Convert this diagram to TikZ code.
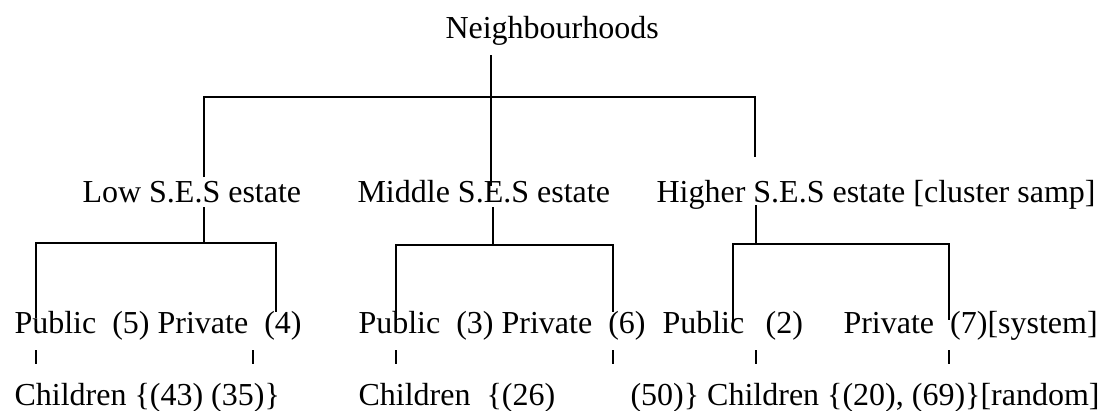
\documentclass[tikz,border=0pt]{standalone}
\usepackage{fontspec}
\setmainfont{Liberation Serif}

\begin{document}
\begin{tikzpicture}[x=0.375pt,y=-0.375pt,
  lbl/.style={anchor=base west,inner sep=0pt,font=\fontsize{12}{14}\selectfont},
  link/.style={line width=1pt}]
\useasboundingbox (0,0) rectangle (1109,410);
% rows of text
\node[lbl] (nbh) at (445,38) {Neighbourhoods};
\node[lbl] (low) at (82,202) {Low S.E.S estate};
\node[lbl] (mid) at (357,202) {Middle S.E.S estate};
\node[lbl] (high) at (656,202) {Higher S.E.S estate [cluster samp]};
\node[lbl] (lowpub) at (14,333) {Public\ \ (5) Private\ \ (4)};
\node[lbl] (midpub) at (358,333) {Public\ \ (3) Private\ \ (6)};
\node[lbl] (highpub) at (662,333) {Public\hspace{8pt}(2)};
\node[lbl] (highpri) at (843,333) {Private\ \ (7)[system]};
\node[lbl] (lowkids) at (14,405) {Children {\{}(43) (35){\}}};
\node[lbl] (midkids) at (358,405) {Children\ \ {\{}(26)};
\node[lbl] (highkids) at (630,405) {(50){\}} Children {\{}(20), (69){\}}[random]};
% junctions
\coordinate (rootstem) at (491,55);
\coordinate (rootj) at (491,97);
\coordinate (lowtop) at (204,177);
\coordinate (midtop) at (491,186);
\coordinate (hightop) at (755,157);
\coordinate (lowstem) at (204,207);
\coordinate (lowj) at (204,243);
\coordinate (lowpubtop) at (36,318);
\coordinate (lowpritop) at (276,312);
\coordinate (midstem) at (493,207);
\coordinate (midj) at (493,245);
\coordinate (midpubtop) at (396,318);
\coordinate (midpritop) at (613,312);
\coordinate (highstem) at (756,205);
\coordinate (highj) at (756,244);
\coordinate (highpubtop) at (733,322);
\coordinate (highpritop) at (949,320);
\draw[link] (rootstem) -- (midtop);
\draw[link] (lowtop) |- (rootj) -| (hightop);
\draw[link] (lowstem) -- (lowj);
\draw[link] (lowpubtop) |- (lowj) -| (lowpritop);
\draw[link] (midstem) -- (midj);
\draw[link] (midpubtop) |- (midj) -| (midpritop);
\draw[link] (highstem) -- (highj);
\draw[link] (highpubtop) |- (highj) -| (highpritop);
% ticks down to the children
\foreach \t [count=\i] in {36,253,396,613,756,949}{
  \coordinate (tick\i) at (\t,350);
  \coordinate (kid\i) at (\t,364);
  \draw[link] (tick\i) -- (kid\i);
}
\end{tikzpicture}
\end{document}
